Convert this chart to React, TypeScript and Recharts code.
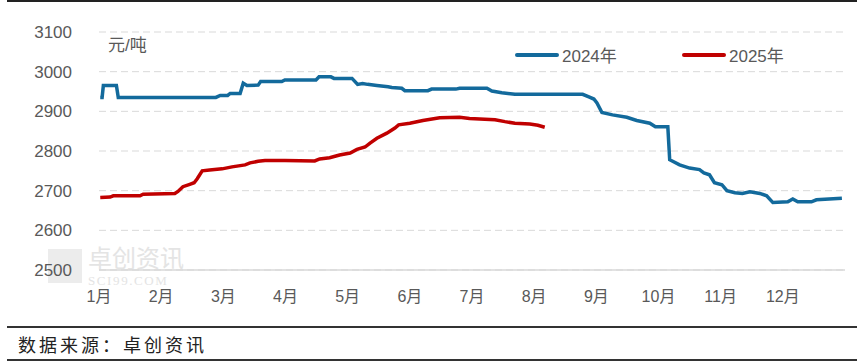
import { LineChart, Line, XAxis, YAxis, CartesianGrid } from 'recharts'

// x is position in months (0 = 1月1日), y is 元/吨
const months = ['1月', '2月', '3月', '4月', '5月', '6月', '7月', '8月', '9月', '10月', '11月', '12月']
const yTicks = [2500, 2600, 2700, 2800, 2900, 3000, 3100]

const x2024 = [
  0.02, 0.05, 0.07, 0.28, 0.31, 1.88, 1.95, 2.07, 2.11, 2.27, 2.32, 2.38, 2.56, 2.6, 2.94, 2.99,
  3.49, 3.54, 3.73, 3.78, 4.07, 4.16, 4.24, 4.32, 4.47, 4.65, 4.71, 4.87, 4.92, 5.29, 5.35, 5.74,
  5.8, 6.24, 6.32, 6.48, 6.69, 7.78, 7.89, 7.96, 8.01, 8.09, 8.26, 8.49, 8.65, 8.86, 8.95, 9.15,
  9.18, 9.34, 9.5, 9.66, 9.73, 9.82, 9.9, 10.02, 10.1, 10.23, 10.35, 10.47, 10.63, 10.74, 10.84,
  11.08, 11.16, 11.24, 11.46, 11.54, 11.95,
]
const y2024 = [
  2935, 2935, 2965, 2965, 2935, 2935, 2940, 2940, 2945, 2945, 2971, 2965, 2966, 2975, 2975, 2979,
  2979, 2987, 2987, 2983, 2983, 2968, 2970, 2968, 2965, 2962, 2960, 2958, 2952, 2952, 2956, 2956,
  2958, 2958, 2951, 2947, 2943, 2943, 2936, 2931, 2921, 2897, 2891, 2885, 2877, 2870, 2861, 2861,
  2778, 2765, 2757, 2753, 2745, 2740, 2720, 2715, 2700, 2695, 2693, 2697, 2693, 2687, 2670,
  2672, 2679, 2672, 2672, 2677, 2681,
]

const x2025 = [
  0.02, 0.18, 0.23, 0.66, 0.71, 1.06, 1.22, 1.27, 1.35, 1.46, 1.53, 1.58, 1.66, 1.78, 1.98, 2.14,
  2.35, 2.43, 2.56, 2.67, 2.99, 3.47, 3.55, 3.71, 3.87, 4.04, 4.15, 4.28, 4.36, 4.47, 4.63, 4.76,
  4.82, 5.0, 5.21, 5.48, 5.8, 5.96, 6.37, 6.53, 6.69, 6.93, 7.06, 7.17,
]
const y2025 = [
  2683, 2684, 2687, 2687, 2691, 2692, 2693, 2698, 2710, 2716, 2720, 2730, 2750, 2752, 2755, 2760,
  2765, 2770, 2774, 2776, 2776, 2775, 2780, 2783, 2790, 2795, 2804, 2810, 2820, 2832, 2845, 2858,
  2866, 2870, 2877, 2884, 2885, 2882, 2879, 2874, 2870, 2868, 2865, 2860,
]

const BLUE = '#136a9c'
const RED = '#c00000'
const FONT = '"Liberation Sans", "Noto Sans CJK SC", sans-serif'

const data2024 = x2024.map((m, i) => ({ m, v: y2024[i] }))
const data2025 = x2025.map((m, i) => ({ m, v: y2025[i] }))

const legendItems = [
  { name: '2024年', color: BLUE },
  { name: '2025年', color: RED },
]

export default function App() {
  return (
    <div style={{ position: 'absolute', left: 0, top: 0, width: 866, height: 363, background: '#fff', fontFamily: FONT }}>
      <div style={{ position: 'absolute', left: 7, top: 0, width: 850, height: 2, background: '#222' }} />

      {/* watermark */}
      <div style={{ position: 'absolute', left: 48, top: 249, width: 34, height: 34, background: '#ececec' }} />
      <div style={{ position: 'absolute', left: 88, top: 245, fontSize: 24, color: '#e4e4e4', fontFamily: '"Noto Sans CJK SC"', lineHeight: '24px' }}>
        卓创资讯
      </div>
      <div style={{ position: 'absolute', left: 88, top: 275, fontSize: 13, color: '#e4e4e4', fontFamily: '"Liberation Serif", serif', letterSpacing: 1.6, lineHeight: '12px' }}>
        SCI99.COM
      </div>

      <LineChart
        width={866}
        height={320}
        margin={{ top: 32, right: 21, left: 0, bottom: 0 }}
        style={{ position: 'absolute', left: 0, top: 0 }}
      >
        <CartesianGrid vertical={false} stroke="#d9d9d9" strokeDasharray="7 4" />
        <XAxis
          dataKey="m"
          type="number"
          domain={[0, 12]}
          ticks={[0, 1, 2, 3, 4, 5, 6, 7, 8, 9, 10, 11]}
          tickFormatter={(v: number) => months[v]}
          allowDuplicatedCategory={false}
          height={50}
          tickLine={false}
          axisLine={{ stroke: '#d9d9d9', strokeWidth: 1.5 }}
          tickMargin={15}
          tick={{ fill: '#595959', fontSize: 16, fontFamily: FONT }}
        />
        <YAxis
          domain={[2500, 3100]}
          ticks={yTicks}
          width={99}
          tickLine={false}
          axisLine={false}
          tickMargin={21}
          tick={{ fill: '#595959', fontSize: 17, fontFamily: FONT }}
        />
        <Line
          data={data2024}
          dataKey="v"
          name="2024年"
          type="linear"
          stroke={BLUE}
          strokeWidth={3.5}
          dot={false}
          isAnimationActive={false}
        />
        <Line
          data={data2025}
          dataKey="v"
          name="2025年"
          type="linear"
          stroke={RED}
          strokeWidth={3.5}
          dot={false}
          isAnimationActive={false}
        />
      </LineChart>

      {/* legend */}
      <div style={{ position: 'absolute', left: 515, top: 42, display: 'flex', fontSize: 17, color: '#595959' }}>
        {legendItems.map((it) => (
          <div key={it.name} style={{ display: 'flex', alignItems: 'center', width: 167 }}>
            <div style={{ width: 44, height: 4, borderRadius: 2, background: it.color, marginRight: 3 }} />
            <span>{it.name}</span>
          </div>
        ))}
      </div>

      <div style={{ position: 'absolute', left: 108, top: 31, fontSize: 17, color: '#595959' }}>元/吨</div>

      <div style={{ position: 'absolute', left: 7, top: 326, width: 850, height: 2, background: '#333' }} />
      <div style={{ position: 'absolute', left: 18, top: 332, fontSize: 18, letterSpacing: 3, color: '#222', fontFamily: '"Noto Sans CJK SC"', lineHeight: '24px' }}>
        数据来源：卓创资讯
      </div>
      <div style={{ position: 'absolute', left: 7, top: 359, width: 850, height: 2, background: '#333' }} />
    </div>
  )
}
